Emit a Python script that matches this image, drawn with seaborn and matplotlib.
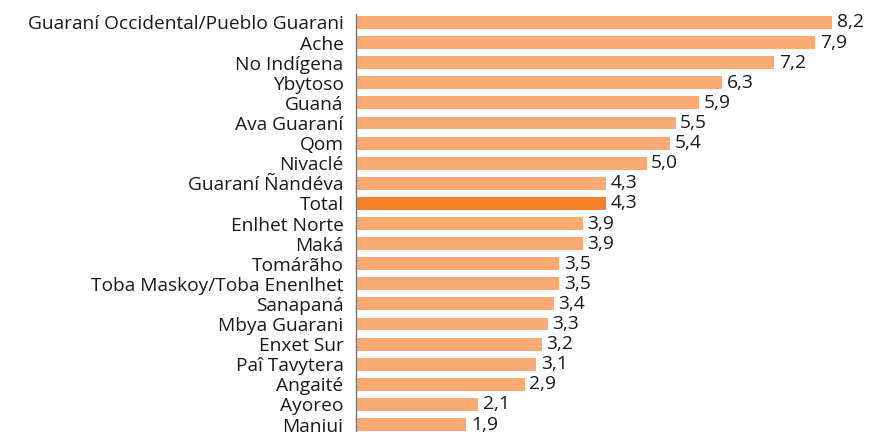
import matplotlib
matplotlib.use("Agg")
import matplotlib.pyplot as plt
import seaborn as sns
import pandas as pd

################################# DATA ################################
pueblos = ["Guaraní Occidental/Pueblo Guarani", "Ache", "No Indígena", "Ybytoso",
           "Guaná", "Ava Guaraní", "Qom", "Nivaclé", "Guaraní Ñandéva", "Total",
           "Enlhet Norte", "Maká", "Tomárãho", "Toba Maskoy/Toba Enenlhet",
           "Sanapaná", "Mbya Guarani", "Enxet Sur", "Paî Tavytera", "Angaité",
           "Ayoreo", "Manjui"]
valores = [8.2, 7.9, 7.2, 6.3, 5.9, 5.5, 5.4, 5.0, 4.3, 4.3, 3.9, 3.9, 3.5, 3.5,
           3.4, 3.3, 3.2, 3.1, 2.9, 2.1, 1.9]

light = "#F9AB73"
dark = "#F5822A"
colores = [dark if p == "Total" else light for p in pueblos]

df = pd.DataFrame({"pueblo": pueblos, "valor": valores})

################################# PLOT ################################
sns.set_style("white")
plt.rcParams["font.family"] = ["Open Sans", "DejaVu Sans"]

fig = plt.figure(figsize=(8.72, 4.32), dpi=100)
ax = fig.add_axes([356 / 872, 0, 516 / 872, 418 / 432])

sns.barplot(data=df, x="valor", y="pueblo", hue="pueblo", palette=colores,
            saturation=1, legend=False, width=0.64, edgecolor="none", ax=ax)

for i, v in enumerate(valores):
    ax.text(v + 0.08, i, f"{v:.1f}".replace(".", ","), va="center", ha="left",
            fontsize=13.8, color="#1a1a1a")

ax.set_xlim(0, 8.88)
ax.set_ylim(20.37, -0.42)
ax.set_xlabel("")
ax.set_ylabel("")
ax.set_xticks([])
ax.tick_params(axis="y", length=0, pad=9, labelsize=13.8, labelcolor="#1a1a1a")
for s in ["top", "right", "bottom"]:
    ax.spines[s].set_visible(False)
ax.spines["left"].set_color("#777777")
ax.spines["left"].set_linewidth(1.0)

fig.savefig("out.png", dpi=100)
